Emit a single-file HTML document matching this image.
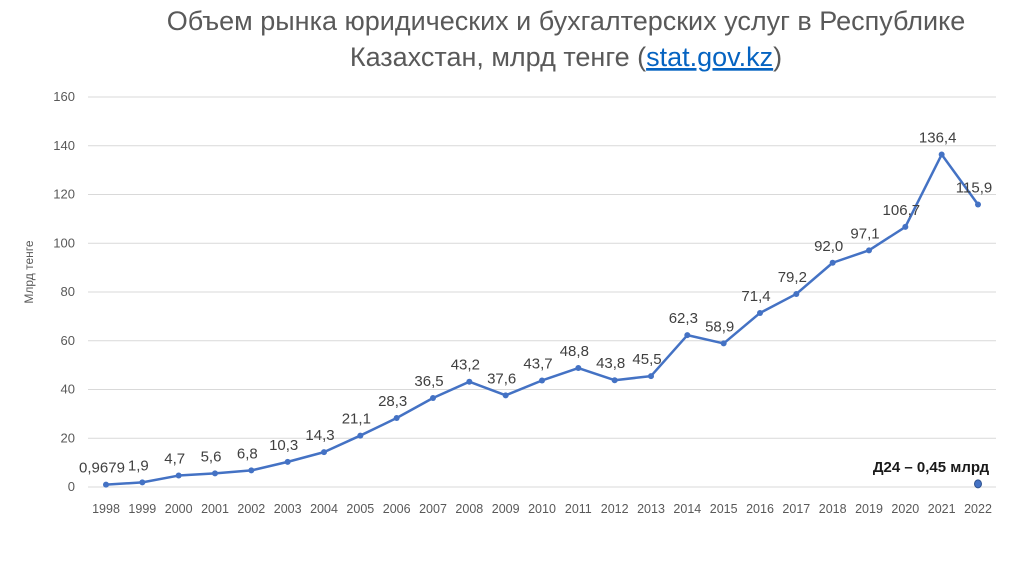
<!DOCTYPE html>
<html><head><meta charset="utf-8"><style>
body{margin:0;background:#fff;width:1024px;height:574px;overflow:hidden;font-family:"Liberation Sans","DejaVu Sans",sans-serif}
</style></head><body>
<svg id="chart" width="1024" height="574" xmlns="http://www.w3.org/2000/svg" font-family="Liberation Sans, DejaVu Sans, sans-serif">
<text x="566" y="30" text-anchor="middle" font-size="27" fill="#595959">Объем рынка юридических и бухгалтерских услуг в Республике</text>
<text x="566" y="66" text-anchor="middle" font-size="27" fill="#595959">Казахстан, млрд тенге (<tspan fill="#0563c1" text-decoration="underline">stat.gov.kz</tspan>)</text>
<text transform="translate(33,272) rotate(-90)" text-anchor="middle" font-size="12" fill="#595959">Млрд тенге</text>
<g id="grid"></g><g id="xlab"></g><g id="series"></g>
<text x="931" y="472" text-anchor="middle" font-size="15" font-weight="bold" fill="#1a1a1a">Д24 – 0,45 млрд</text>
</svg>
<script>
const years=['1998','1999','2000','2001','2002','2003','2004','2005','2006','2007','2008','2009','2010','2011','2012','2013','2014','2015','2016','2017','2018','2019','2020','2021','2022'];
const values=[0.9679,1.9,4.7,5.6,6.8,10.3,14.3,21.1,28.3,36.5,43.2,37.6,43.7,48.8,43.8,45.5,62.3,58.9,71.4,79.2,92.0,97.1,106.7,136.4,115.9];
const labels=['0,9679','1,9','4,7','5,6','6,8','10,3','14,3','21,1','28,3','36,5','43,2','37,6','43,7','48,8','43,8','45,5','62,3','58,9','71,4','79,2','92,0','97,1','106,7','136,4','115,9'];
const yTicks=[0,20,40,60,80,100,120,140,160];
const extraValue=[0.45];
const NS='http://www.w3.org/2000/svg';
const X=i=>106+i*(872/24), Y=v=>487-v*(390/160);
function mk(t,a,p){const e=document.createElementNS(NS,t);for(const k in a)e.setAttribute(k,a[k]);p.appendChild(e);return e;}
const g=document.getElementById('grid'),xl=document.getElementById('xlab'),s=document.getElementById('series');
yTicks.forEach(v=>{
 const l=mk('line',{x1:88,x2:996,y1:Y(v),y2:Y(v),stroke:'#d9d9d9','stroke-width':1},g);
 
 
 const t=mk('text',{x:75,y:Y(v)+4,'text-anchor':'end','font-size':13,fill:'#595959'},g);
 t.textContent=v;
 
 
});
years.forEach((y,i)=>{
 const t=mk('text',{x:X(i),y:513,'text-anchor':'middle','font-size':12.5,fill:'#595959'},xl);
 t.textContent=y;
 
 
});
const p=mk('polyline',{points:values.map((v,i)=>X(i)+','+Y(v)).join(' '),fill:'none',stroke:'#4472c4','stroke-width':2.5,'stroke-linejoin':'round'},s);


values.forEach((v,i)=>{
 const c=mk('circle',{cx:X(i),cy:Y(v),r:3,fill:'#4472c4'},s);
 
 
 const t=mk('text',{x:X(i)-4,y:Y(v)-12,'text-anchor':'middle','font-size':15,fill:'#404040'},s);
 t.textContent=labels[i];
 
 
});
const e=mk('ellipse',{cx:X(24),cy:Y(extraValue[0])-2,rx:3.5,ry:4,fill:'#4472c4',stroke:'#2f528f','stroke-width':1},s);


</script>
</body></html>
